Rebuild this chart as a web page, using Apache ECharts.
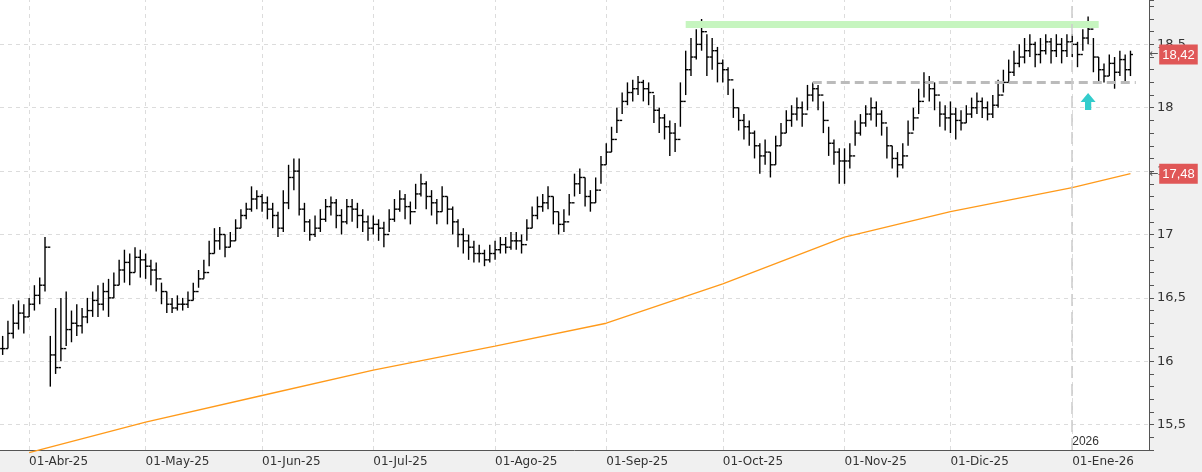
<!DOCTYPE html>
<html>
<head>
<meta charset="utf-8">
<script src="https://cdn.jsdelivr.net/npm/echarts@6/dist/echarts.min.js"></script>
<style>
  html, body { margin: 0; padding: 0; background: #f0f0f0; }
  #chart { width: 1202px; height: 472px; }
</style>
</head>
<body>
<div id="chart"></div>
<script>
// cierres, máximos y mínimos diarios, desde 25-Mar-25
var closes = [
  16.10,16.22,16.30,16.38,16.35,
  16.45,16.52,16.60,16.90,16.05,15.95,16.10,16.25,16.30,16.28,16.35,16.40,16.48,16.45,16.55,16.50,16.60,16.72,16.78,16.70,16.82,16.80,
  16.75,16.72,16.65,16.55,16.45,16.42,16.45,16.45,16.48,16.55,16.65,16.70,16.85,16.95,17.00,16.90,16.95,17.05,17.15,17.20,17.28,17.30,
  17.25,17.20,17.15,17.05,17.25,17.45,17.50,17.20,17.10,17.00,17.05,17.12,17.22,17.25,17.15,17.10,17.22,17.20,17.15,17.10,17.05,
  17.08,17.05,17.00,17.12,17.20,17.28,17.22,17.18,17.32,17.40,17.30,17.25,17.18,17.30,17.20,17.10,17.00,16.95,16.90,16.85,16.85,16.80,16.85,
  16.88,16.92,16.90,16.95,16.95,16.92,17.05,17.15,17.22,17.25,17.30,17.18,17.08,17.10,17.25,17.40,17.45,17.30,17.25,17.35,17.55,
  17.65,17.75,17.90,18.05,18.12,18.15,18.20,18.15,18.12,17.98,17.92,17.85,17.80,17.75,18.05,18.30,18.40,18.50,18.60,18.40,18.45,18.35,
  18.30,18.22,18.00,17.90,17.85,17.80,17.70,17.62,17.65,17.55,17.70,17.80,17.90,17.95,18.00,17.95,18.10,18.15,18.10,17.90,17.72,17.65,17.58,
  17.58,17.62,17.80,17.88,17.95,18.00,17.95,17.88,17.70,17.60,17.55,17.62,17.80,17.92,18.05,18.20,18.15,18.10,17.95,17.92,
  17.95,17.90,17.88,17.95,18.00,18.05,18.00,17.95,18.02,18.10,18.20,18.28,18.35,18.40,18.45,18.50,18.42,18.45,18.52,18.45,18.50,18.45,18.52,
  18.50,18.42,18.55,18.62,18.40,18.30,18.25,18.35,18.28,18.38,18.30,18.42
];
var highs = [
  16.20,16.32,16.45,16.48,16.45,
  16.50,16.60,16.66,16.98,16.20,16.42,16.50,16.55,16.40,16.45,16.42,16.50,16.55,16.60,16.62,16.65,16.70,16.80,16.88,16.85,16.90,16.88,
  16.85,16.80,16.78,16.62,16.55,16.50,16.52,16.50,16.55,16.62,16.72,16.80,16.95,17.05,17.06,17.00,17.02,17.12,17.20,17.25,17.38,17.35,
  17.32,17.30,17.25,17.18,17.35,17.55,17.60,17.60,17.25,17.12,17.15,17.20,17.28,17.30,17.28,17.20,17.28,17.28,17.25,17.20,17.15,
  17.15,17.12,17.10,17.20,17.28,17.35,17.32,17.26,17.40,17.48,17.42,17.35,17.28,17.38,17.30,17.22,17.12,17.05,17.00,16.95,16.92,16.88,16.92,
  16.95,16.98,16.98,17.02,17.02,17.00,17.12,17.22,17.30,17.32,17.38,17.30,17.18,17.20,17.32,17.48,17.52,17.45,17.35,17.45,17.62,
  17.72,17.85,18.00,18.12,18.20,18.22,18.25,18.22,18.20,18.10,18.00,17.95,17.90,17.88,18.20,18.45,18.55,18.62,18.70,18.58,18.55,18.48,
  18.38,18.32,18.15,18.00,17.95,17.90,17.82,17.72,17.75,17.65,17.78,17.88,17.98,18.02,18.08,18.05,18.18,18.20,18.18,18.05,17.85,17.75,17.68,
  17.68,17.72,17.90,17.95,18.02,18.08,18.05,17.98,17.85,17.70,17.65,17.72,17.90,18.00,18.15,18.28,18.25,18.20,18.05,18.02,
  18.05,18.00,17.98,18.02,18.08,18.12,18.08,18.05,18.10,18.22,18.30,18.38,18.45,18.50,18.55,18.58,18.52,18.55,18.58,18.55,18.58,18.55,18.58,
  18.58,18.52,18.62,18.72,18.55,18.40,18.35,18.42,18.40,18.45,18.42,18.45
];
var lows = [
  16.05,16.10,16.18,16.25,16.22,
  16.35,16.40,16.45,16.55,15.80,15.90,16.00,16.12,16.15,16.20,16.22,16.30,16.35,16.35,16.40,16.35,16.50,16.60,16.62,16.60,16.70,16.66,
  16.65,16.60,16.55,16.45,16.38,16.38,16.40,16.40,16.42,16.48,16.58,16.65,16.75,16.85,16.88,16.82,16.90,16.95,17.05,17.12,17.18,17.20,
  17.18,17.12,17.05,16.98,17.02,17.20,17.35,17.15,17.02,16.95,16.98,17.02,17.10,17.15,17.05,17.00,17.08,17.10,17.05,17.02,16.95,
  17.00,16.95,16.90,17.02,17.10,17.18,17.12,17.08,17.20,17.30,17.20,17.15,17.08,17.18,17.08,17.00,16.90,16.85,16.80,16.78,16.78,16.75,16.78,
  16.80,16.85,16.85,16.88,16.88,16.85,16.95,17.05,17.12,17.18,17.20,17.08,17.00,17.02,17.15,17.30,17.32,17.22,17.18,17.25,17.40,
  17.55,17.65,17.80,17.95,18.02,18.05,18.10,18.05,18.02,17.88,17.80,17.75,17.62,17.65,17.85,18.10,18.25,18.38,18.45,18.25,18.30,18.20,
  18.20,18.10,17.92,17.82,17.75,17.70,17.60,17.48,17.55,17.45,17.55,17.70,17.80,17.85,17.90,17.85,17.98,18.05,17.98,17.80,17.62,17.55,17.40,
  17.40,17.52,17.70,17.78,17.85,17.90,17.85,17.78,17.60,17.52,17.45,17.52,17.70,17.82,17.95,18.08,18.05,17.98,17.85,17.82,
  17.80,17.75,17.82,17.88,17.92,17.95,17.92,17.90,17.92,18.00,18.12,18.20,18.25,18.32,18.35,18.40,18.32,18.35,18.42,18.35,18.40,18.35,18.40,
  18.40,18.32,18.45,18.50,18.28,18.20,18.20,18.25,18.15,18.25,18.20,18.25
];
// media móvil leída a principio de cada mes
var maDates = ['01-Abr-25','01-May-25','02-Jun-25','01-Jul-25','01-Ago-25','01-Sep-25','01-Oct-25','03-Nov-25','01-Dic-25','01-Ene-26','16-Ene-26'];
var maValues = [15.28,15.52,15.73,15.93,16.12,16.30,16.61,16.98,17.18,17.37,17.48];
var yTicks = [15.5, 16, 16.5, 17, 17.5, 18, 18.5];
var resistencia = 18.66, soporte = 18.20;
var lastPrice = 18.42, lastMa = 17.48;

var meses = ['Ene','Feb','Mar','Abr','May','Jun','Jul','Ago','Sep','Oct','Nov','Dic'];
function pad(n){ return (n < 10 ? '0' : '') + n; }
var dates = [], firstOfMonth = {}, monthStarts = [];
(function(){
  var d = new Date(2025, 2, 25), lastM = -1;
  while (dates.length < closes.length + 3) {
    var wd = d.getDay();
    if (wd !== 0 && wd !== 6) {
      var s = pad(d.getDate()) + '-' + meses[d.getMonth()] + '-' + String(d.getFullYear()).slice(2);
      if (d.getMonth() !== lastM && dates.length > 0) { firstOfMonth[dates.length] = true; monthStarts.push(s); }
      lastM = d.getMonth();
      dates.push(s);
    }
    d.setDate(d.getDate() + 1);
  }
})();
var maData = dates.map(function(){ return null; });
maDates.forEach(function(s, i){ var k = dates.indexOf(s); if (k >= 0) maData[k] = maValues[i]; });
var ohlc = closes.map(function(c, i){ return [i, i ? closes[i-1] : c, c, lows[i], highs[i]]; });
var monthLabel = function(i){ return !!firstOfMonth[i]; };
var fmt = function(v){ return String(v).replace('.', ','); };
var gridDash = { color: '#dcdcdc', width: 1, type: [4, 4] };

var chart = echarts.init(document.getElementById('chart'));
function tag(v){
  return {
    yAxis: v,
    lineStyle: { color: 'rgba(255,255,255,0)', width: 0.1 },
    label: {
      show: true, position: 'end', distance: 0,
      formatter: '{a|←}{b|' + fmt(v.toFixed(2)) + '}',
      rich: {
        a: { color: '#555', fontSize: 11, fontFamily: 'DejaVu Sans', padding: [0, 1, 0, 0] },
        b: { color: '#fff', backgroundColor: '#e05757', fontSize: 13, fontFamily: 'Liberation Sans', padding: [4, 3, 3, 3] }
      }
    }
  };
}
chart.setOption({
  animation: false,
  backgroundColor: '#f0f0f0',
  grid: { left: 0, right: 53, top: 0, bottom: 22, show: true, backgroundColor: '#fff', borderWidth: 0 },
  xAxis: {
    type: 'category', data: dates, boundaryGap: true,
    axisLine: { lineStyle: { color: '#555' } },
    axisTick: { interval: monthLabel, length: 6, lineStyle: { color: '#555' } },
    axisLabel: { interval: monthLabel, align: 'left', margin: 6, color: '#333', fontSize: 12, fontFamily: 'DejaVu Sans',
      formatter: function(v){ return '01' + v.slice(2); } },
    splitLine: { show: false }
  },
  yAxis: {
    type: 'value', position: 'right', min: 15.3, max: 18.85, interval: 0.1,
    axisLine: { show: true, lineStyle: { color: '#555' } },
    axisTick: { show: true, length: 5, lineStyle: { color: '#555' } },
    axisLabel: { color: '#333', fontSize: 13, fontFamily: 'DejaVu Sans', margin: 8,
      formatter: function(v){ var r = Math.round(v * 10); return r % 5 === 0 ? fmt(r / 10) : ''; } },
    splitLine: { show: false }
  },
  series: [
    {
      type: 'line', data: maData, connectNulls: true, showSymbol: false, symbol: 'none', clip: false,
      lineStyle: { color: '#ff9a1a', width: 1.3 }, z: 2,
      markLine: {
        symbol: 'none', silent: true, z: 1,
        data: yTicks.map(function(v){ return { yAxis: v, lineStyle: gridDash, label: { show: false } }; })
          .concat(monthStarts.map(function(s){ return { xAxis: s, lineStyle: gridDash, label: { show: false } }; }))
          .concat([tag(lastMa), tag(lastPrice)])
      }
    },
    {
      type: 'custom', data: ohlc, z: 3,
      encode: { x: 0, y: [1, 2, 3, 4] },
      renderItem: function(params, api){
        var x = api.value(0);
        var o = api.coord([x, api.value(1)]), c = api.coord([x, api.value(2)]);
        var l = api.coord([x, api.value(3)]), h = api.coord([x, api.value(4)]);
        var st = { stroke: '#000', lineWidth: 1.4 };
        return { type: 'group', children: [
          { type: 'line', shape: { x1: l[0], y1: l[1], x2: h[0], y2: h[1] }, style: st },
          { type: 'line', shape: { x1: o[0] - 2.5, y1: o[1], x2: o[0], y2: o[1] }, style: st },
          { type: 'line', shape: { x1: c[0], y1: c[1], x2: c[0] + 2.5, y2: c[1] }, style: st }
        ] };
      },
      markLine: {
        symbol: 'none', silent: true,
        data: [
          [ { coord: ['22-Sep-25', resistencia], lineStyle: { color: '#c6f5bf', width: 7, type: 'solid' }, label: { show: false } },
            { coord: ['08-Ene-26', resistencia] } ],
          [ { coord: ['24-Oct-25', soporte], lineStyle: { color: '#bbb', width: 3, type: [9, 5] }, label: { show: false } },
            { coord: ['19-Ene-26', soporte] } ],
          { xAxis: '01-Ene-26', lineStyle: { color: '#ccc', width: 1.5, type: [12, 6] },
            label: { show: true, position: 'start', formatter: '2026', color: '#333', fontSize: 12, distance: [-14, -14], align: 'left' } }
        ]
      },
      markPoint: {
        silent: true,
        data: [ { coord: ['06-Ene-26', 18.05], symbol: 'path://M6,0 L12,7 L8.5,7 L8.5,13 L3.5,13 L3.5,7 L0,7 Z', symbolSize: [15, 17],
          itemStyle: { color: '#33cccc' }, label: { show: false } } ]
      }
    }
  ]
});
</script>
</body>
</html>
